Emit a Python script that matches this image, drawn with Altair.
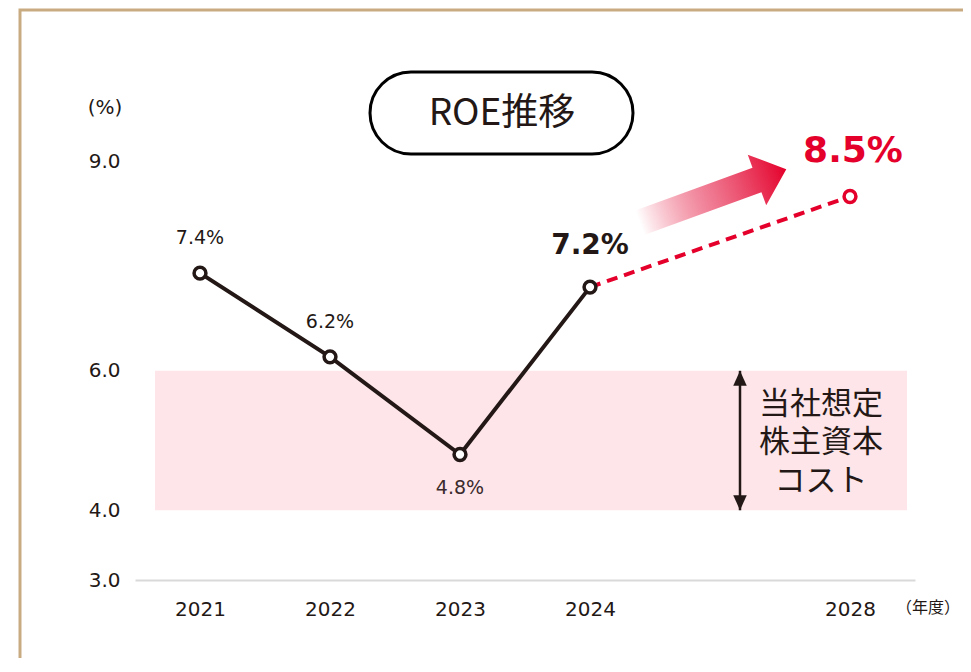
import altair as alt
import pandas as pd

# ---- data ----
years_actual = [2021, 2022, 2023, 2024]
roe_actual = [7.4, 6.2, 4.8, 7.2]
years_plan = [2024, 2028]
roe_plan = [7.2, 8.5]
cost_low = 4.0
cost_high = 6.0
x_ticks = [2021, 2022, 2023, 2024, 2028]
y_ticks = [3.0, 4.0, 6.0, 9.0]
title_text = "ROE推移"
cost_lines = ["当社想定", "株主資本", "コスト"]
y_unit = "(%)"
x_unit = "（年度）"

BLACK = "#231815"
RED = "#e4002b"
NUM_FONT = "DejaVu Sans"
JP_FONT = "Noto Sans CJK JP"

df_actual = pd.DataFrame({"year": years_actual, "roe": roe_actual})
df_plan = pd.DataFrame({"year": years_plan, "roe": roe_plan})
one = pd.DataFrame({"k": [0]})

x_scale = alt.Scale(domain=[2020.5, 2024, 2028, 2028.5], range=[0, 455, 715, 780], nice=False, zero=False)
y_scale = alt.Scale(domain=[3, 10.5], nice=False, zero=False)

x_axis = alt.Axis(values=x_ticks, format="d", title=None, ticks=False, grid=False,
                  domain=True, domainColor="#d9d9d9", domainWidth=2,
                  labelFont=NUM_FONT, labelFontSize=20, labelColor=BLACK, labelPadding=19)
y_axis = alt.Axis(values=y_ticks, format=".1f", title=None, ticks=False, grid=False,
                  domain=False, labelFont=NUM_FONT, labelFontSize=20, labelColor=BLACK,
                  labelPadding=15)


def X(field):
    return alt.X(field, type="quantitative", scale=x_scale, axis=x_axis)


def Y(field):
    return alt.Y(field, type="quantitative", scale=y_scale, axis=y_axis)


# frame
frame = alt.Chart(one).mark_rect(fill="white", fillOpacity=0, stroke="#c8ab80", strokeWidth=3).encode(
    x=alt.value(-115), x2=alt.value(900), y=alt.value(-47), y2=alt.value(700))

# cost of equity band
band = alt.Chart(pd.DataFrame({"lo": [cost_low], "hi": [cost_high]})).mark_rect(color="#fde5e9").encode(
    x=alt.value(20), x2=alt.value(772), y=Y("hi"), y2="lo:Q")

# double-headed arrow
brk_rule = alt.Chart(pd.DataFrame({"lo": [cost_low], "hi": [cost_high]})).mark_rule(
    color=BLACK, strokeWidth=2.5).encode(x=alt.value(605), y=Y("hi"), y2="lo:Q")
head_up = alt.Chart(pd.DataFrame({"v": [cost_high]})).mark_point(
    shape="M0,0L-0.45,1L0.45,1Z", filled=True, fill=BLACK, size=900, opacity=1, strokeWidth=0).encode(
    x=alt.value(605), y=Y("v"))
head_down = alt.Chart(pd.DataFrame({"v": [cost_low]})).mark_point(
    shape="M0,0L-0.45,-1L0.45,-1Z", filled=True, fill=BLACK, size=900, opacity=1, strokeWidth=0).encode(
    x=alt.value(605), y=Y("v"))
cost_text = alt.Chart(pd.DataFrame({"v": [(cost_low + cost_high) / 2]})).mark_text(
    text=cost_lines, font=JP_FONT, fontSize=31, color=BLACK, lineHeight=38.5,
    align="center", baseline="middle", dy=-36).encode(x=alt.value(686), y=Y("v"))

# lines
line_actual = alt.Chart(df_actual).mark_line(color=BLACK, strokeWidth=4).encode(
    x=X("year"), y=Y("roe"))
line_plan = alt.Chart(df_plan).mark_line(color=RED, strokeWidth=4, strokeDash=[11, 7]).encode(
    x=X("year"), y=Y("roe"))

pts_actual = alt.Chart(df_actual).mark_point(
    shape="circle", filled=True, fill="white", stroke=BLACK, strokeWidth=3.5, size=140, opacity=1).encode(
    x=X("year"), y=Y("roe"))
pts_plan = alt.Chart(df_plan).transform_filter("datum.year == 2028").mark_point(
    shape="circle", filled=True, fill="white", stroke=RED, strokeWidth=3.5, size=140, opacity=1).encode(
    x=X("year"), y=Y("roe"))

# labels
lab_base = alt.Chart(df_actual).transform_calculate(label="format(datum.roe, '.1f') + '%'")
lab_above = lab_base.transform_filter("datum.year <= 2022").mark_text(
    font=NUM_FONT, fontSize=19, color=BLACK, dy=-35, baseline="middle").encode(
    x=X("year"), y=Y("roe"), text="label:N")
lab_below = lab_base.transform_filter("datum.year == 2023").mark_text(
    font=NUM_FONT, fontSize=19, color="#3b2a2c", dy=34, baseline="middle").encode(
    x=X("year"), y=Y("roe"), text="label:N")
lab_2024 = lab_base.transform_filter("datum.year == 2024").mark_text(
    font=NUM_FONT, fontSize=28, fontWeight="bold", color=BLACK, dy=-41, baseline="middle").encode(
    x=X("year"), y=Y("roe"), text="label:N")
lab_2028 = alt.Chart(df_plan).transform_filter("datum.year == 2028").transform_calculate(
    label="format(datum.roe, '.1f') + '%'").mark_text(
    font=NUM_FONT, fontSize=36, fontWeight="bold", color=RED, dy=-45, dx=3, baseline="middle").encode(
    x=X("year"), y=Y("roe"), text="label:N")

# gradient arrow
grad = alt.LinearGradient(
    gradient="linear", x1=0, y1=0, x2=1, y2=0,
    stops=[alt.GradientStop(offset=0, color="rgba(228,0,43,0)"),
           alt.GradientStop(offset=0.45, color="rgba(232,60,95,0.65)"),
           alt.GradientStop(offset=1, color=RED)])
arrow = alt.Chart(one).mark_point(
    shape="M-1,-0.167L0.6,-0.167L0.6,-0.346L1,0L0.6,0.346L0.6,0.167L-1,0.167Z",
    filled=True, fill=grad, size=24336, angle=340, opacity=1, strokeWidth=0).encode(
    x=alt.value(578), y=alt.value(139))

# title box
title_box = alt.Chart(one).mark_rect(fill="white", stroke="black", strokeWidth=3, cornerRadius=41).encode(
    x=alt.value(235), x2=alt.value(498), y=alt.value(15), y2=alt.value(97))
title_lbl = alt.Chart(one).mark_text(text=title_text, font=JP_FONT, fontSize=37, color=BLACK,
                                     align="center", baseline="middle").encode(
    x=alt.value(367), y=alt.value(57))

unit_y = alt.Chart(one).mark_text(text=y_unit, font=NUM_FONT, fontSize=20, color=BLACK,
                                  align="center", baseline="middle").encode(x=alt.value(-30), y=alt.value(51))
unit_x = alt.Chart(one).mark_text(text=x_unit, font=JP_FONT, fontSize=16, color=BLACK,
                                  align="center", baseline="middle").encode(x=alt.value(793), y=alt.value(551))

chart = alt.layer(
    frame, band, line_actual, line_plan, pts_actual, pts_plan,
    brk_rule, head_up, head_down, cost_text,
    lab_above, lab_below, lab_2024, lab_2028,
    arrow, title_box, title_lbl, unit_y, unit_x
).properties(
    width=780, height=523, autosize="none", background="white",
    padding={"left": 127, "top": 49, "right": 48, "bottom": 78}
).configure_view(strokeWidth=0)

chart.save("out.html", embed_options={"renderer": "svg", "actions": False})
